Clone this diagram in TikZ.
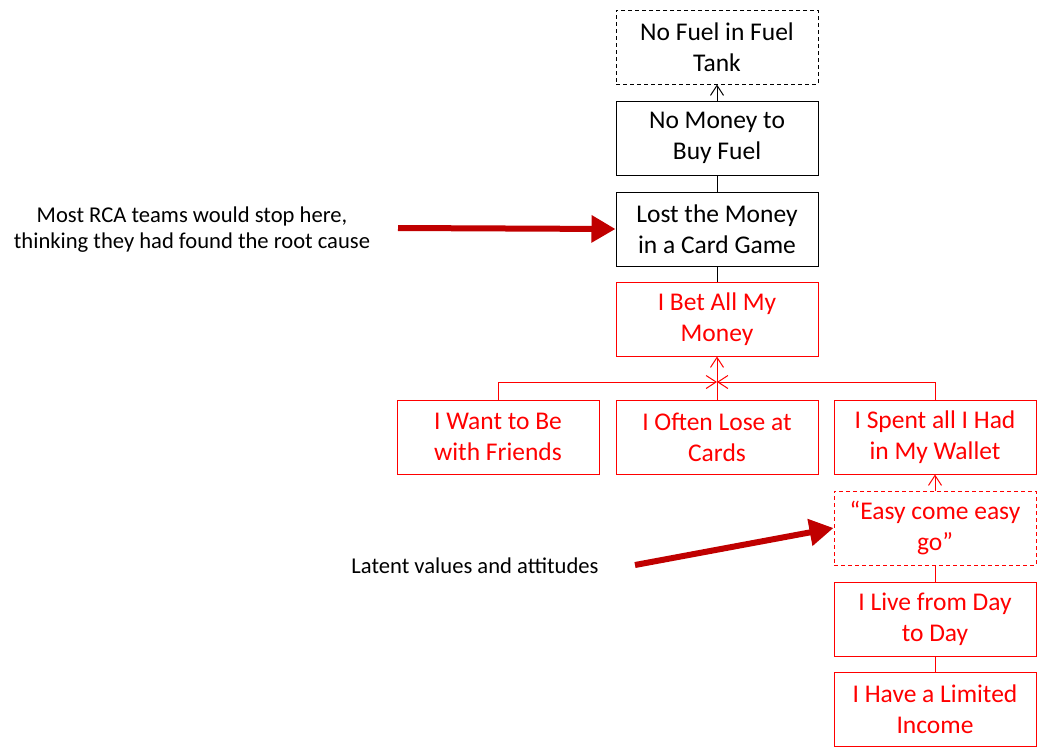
\documentclass[tikz,border=0pt]{standalone}
\usepackage{fontspec}
\setmainfont{Carlito}
\usepackage{xcolor}
\usetikzlibrary{arrows.meta,positioning}
\definecolor{causered}{HTML}{FF0000}
\definecolor{notered}{HTML}{C00000}

\begin{document}
\begin{tikzpicture}[x=1pt,y=-1pt,
  cause node/.style={draw,minimum width=202pt,minimum height=74pt,align=center,
    inner sep=2pt,font=\fontsize{25.5}{31}\selectfont,line width=1pt},
  red node/.style={cause node,draw=causered,text=causered},
  guess/.style={dash pattern=on 4pt off 3pt},
  link/.style={line width=1pt},
  up arrow/.style={link,-{Straight Barb[length=10pt,width=13pt]}},
  note arrow/.style={notered,line width=6pt,-{Triangle[length=24pt,width=26pt]}},
  note/.style={align=center,font=\fontsize{22.6}{26}\selectfont}]

\useasboundingbox (0,0) rectangle (1041,753);

% chain of causes
\node[cause node,guess] (tank) at (717,47) {No Fuel in Fuel\\Tank};
\node[cause node] (money) at (717,138) {No Money to\\Buy Fuel};
\node[cause node] (cards) at (717,229) {Lost the Money\\in a Card Game};
\node[red node] (bet) at (717,319) {I Bet All My\\Money};
\node[red node] (friends) at (498,437) {I Want to Be\\with Friends};
\node[red node] (lose) at (717,437) {I Often Lose at\\Cards};
\node[red node] (wallet) at (935,437) {I Spent all I Had\\in My Wallet};
\node[red node,guess] (easy) at (935,528) {``Easy come easy\\go''};
\node[red node] (day) at (935,619) {I Live from Day\\to Day};
\node[red node] (income) at (935,709) {I Have a Limited\\Income};

\coordinate (join) at (717,382);

\draw[up arrow] (money) -- (tank);
\draw[link] (cards) -- (money);
\draw[link] (bet) -- (cards);
\draw[up arrow,causered] (lose) -- (bet);
\draw[up arrow,causered] (friends.north) |- (join);
\draw[up arrow,causered] (wallet.north) |- (join);
\draw[up arrow,causered] (easy) -- (wallet);
\draw[link,causered] (day) -- (easy);
\draw[link,causered] (income) -- (day);

% remarks
\node[note] (stop) at (192,230) {Most RCA teams would stop here,\\thinking they had found the root cause};
\node[note] (latent) at (475,566) {Latent values and attitudes};
\coordinate (stoptail) at (398,228);
\coordinate (latenttail) at (635,565);
\draw[note arrow] (stoptail) -- (cards.west);
\draw[note arrow] (latenttail) -- (easy.west);

\end{tikzpicture}
\end{document}
